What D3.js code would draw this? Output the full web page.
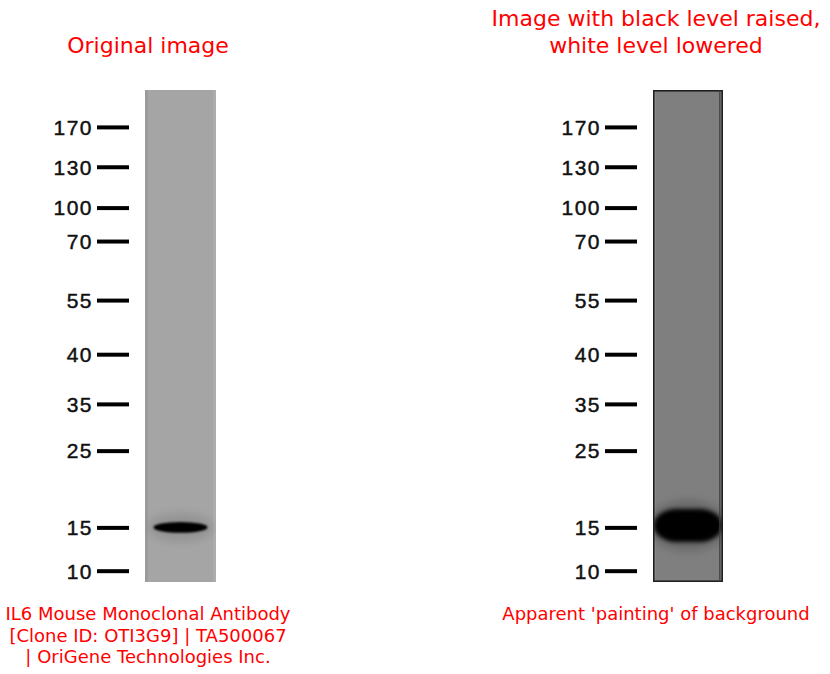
<!DOCTYPE html>
<html>
<head>
<meta charset="utf-8">
<script src="https://cdn.jsdelivr.net/npm/d3@7"></script>
<style>
  body { margin: 0; background: #fff; }
</style>
</head>
<body>
<script>
// Molecular weight ladder (kDa) and where each marker sits down the lane (relative mobility, 0 = top of lane)
const markerKDa = [170, 130, 100, 70, 55, 40, 35, 25, 15, 10];
const markerMobility = [0.075, 0.156, 0.239, 0.307, 0.427, 0.537, 0.638, 0.733, 0.889, 0.977];

// The one band seen in the lane, per panel
const bandMobility = [0.889, 0.885];
const bandSpread = [0.022, 0.067];      // band thickness, in mobility units
const bandFill = [0.76, 0.98];          // share of lane width covered by the band

const panelTitles = [
  ["Original image"],
  ["Image with black level raised,", "white level lowered"]
];
const panelCaptions = [
  ["IL6 Mouse Monoclonal Antibody", "[Clone ID: OTI3G9] | TA500067", "| OriGene Technologies Inc."],
  ["Apparent 'painting' of background"]
];

const W = 830, H = 674;
const laneTop = 90, laneBottom = 582;

// Panel look (the right one is the contrast-stretched copy)
const panels = [
  {dx: 0,   center: 148, lane: [145, 216], gray: "#a5a5a5", edgeL: "#9b9b9b", edgeR: "#adadad", border: false, halo: 0.10, bandBlur: 1.3},
  {dx: 508, center: 656, lane: [653, 723], gray: "#7f7f7f", edgeL: "#8a8a8a", edgeR: "#888888", border: true,  halo: 0.18, bandBlur: 2.2}
];

const svg = d3.select("body").append("svg")
  .attr("width", W)
  .attr("height", H)
  .style("font-family", "'DejaVu Sans', sans-serif");

const defs = svg.append("defs");

// Shared vertical scale: mobility -> pixel
const y = d3.scaleLinear().domain([0, 1]).range([laneTop, laneBottom]);

panels.forEach((p, i) => {
  const g = svg.append("g");

  // Lane horizontal scale: 0..1 across the lane
  const x = d3.scaleLinear().domain([0, 1]).range(p.lane);

  defs.append("clipPath").attr("id", `lane${i}`)
    .append("rect")
    .attr("x", x(0)).attr("y", y(0))
    .attr("width", x(1) - x(0)).attr("height", y(1) - y(0));

  defs.append("filter").attr("id", `blur${i}`)
    .attr("x", "-50%").attr("y", "-100%").attr("width", "200%").attr("height", "300%")
    .append("feGaussianBlur").attr("stdDeviation", p.bandBlur);
  defs.append("filter").attr("id", `halo${i}`)
    .attr("x", "-50%").attr("y", "-100%").attr("width", "200%").attr("height", "300%")
    .append("feGaussianBlur").attr("stdDeviation", 4);

  const lane = g.append("g").attr("clip-path", `url(#lane${i})`);

  lane.append("rect")
    .attr("x", x(0)).attr("y", y(0))
    .attr("width", x(1) - x(0)).attr("height", y(1) - y(0))
    .attr("fill", p.gray);

  // faint edge strips of the scanned lane
  lane.append("rect")
    .attr("x", x(0)).attr("y", y(0))
    .attr("width", x(0.04) - x(0)).attr("height", y(1) - y(0))
    .attr("fill", p.edgeL);
  lane.append("rect")
    .attr("x", x(0.96)).attr("y", y(0))
    .attr("width", x(1) - x(0.96)).attr("height", y(1) - y(0))
    .attr("fill", p.edgeR);

  // halo round the band
  lane.append("ellipse")
    .attr("cx", x(0.5))
    .attr("cy", y(bandMobility[i]))
    .attr("rx", (x(bandFill[i]) - x(0)) / 2 + 6)
    .attr("ry", (y(bandSpread[i]) - y(0)) / 2 + 9)
    .attr("fill", "#000")
    .attr("opacity", p.halo)
    .attr("filter", `url(#halo${i})`);

  // the band itself
  const bw = x(bandFill[i]) - x(0);
  const bh = y(bandSpread[i]) - y(0);
  lane.append("rect")
    .attr("x", x(0.5) - bw / 2)
    .attr("y", y(bandMobility[i]) - bh / 2)
    .attr("width", bw)
    .attr("height", bh)
    .attr("rx", i === 0 ? bw / 2 : bw / 3)
    .attr("ry", bh / 2)
    .attr("fill", "#050505")
    .attr("filter", `url(#blur${i})`);

  if (p.border) {
    g.append("rect")
      .attr("x", x(0) + 0.8).attr("y", y(0) + 0.8)
      .attr("width", x(1) - x(0) - 1.6).attr("height", y(1) - y(0) - 1.6)
      .attr("fill", "none")
      .attr("stroke", "#1a1a1a")
      .attr("stroke-width", 1.5);
    g.append("line")
      .attr("x1", x(0.955)).attr("x2", x(0.955))
      .attr("y1", y(0)).attr("y2", y(1))
      .attr("stroke", "#3a3a3a").attr("stroke-width", 1.2);
  }

  // marker ladder as an axis: bars of 32px ending 16px before the lane
  const axis = d3.axisLeft(y)
    .tickValues(markerMobility)
    .tickFormat((d, k) => markerKDa[k])
    .tickSize(32)
    .tickPadding(4);

  const ax = g.append("g")
    .attr("transform", `translate(${x(0) - 16},0)`)
    .call(axis);
  ax.select(".domain").remove();
  ax.selectAll(".tick line")
    .attr("stroke", "#000")
    .attr("stroke-width", 4);
  ax.selectAll(".tick text")
    .attr("fill", "#111")
    .attr("stroke", "#111")
    .attr("stroke-width", 0.45)
    .attr("dy", "0.35em")
    .style("font-family", "'Liberation Sans', Arial, sans-serif")
    .style("font-size", "21px")
    .style("letter-spacing", "1.5px");

  // title, bottom-aligned above the panel
  const tl = panelTitles[i];
  g.append("text")
    .attr("x", p.center)
    .attr("y", 53 - (tl.length - 1) * 27)
    .attr("text-anchor", "middle")
    .attr("fill", "red")
    .style("font-size", "22px")
    .selectAll("tspan")
    .data(tl)
    .join("tspan")
    .attr("x", p.center)
    .attr("dy", (d, k) => k === 0 ? 0 : 27)
    .text(d => d);

  // caption underneath
  g.append("text")
    .attr("x", p.center)
    .attr("y", 620)
    .attr("text-anchor", "middle")
    .attr("fill", "red")
    .style("font-size", "18px")
    .selectAll("tspan")
    .data(panelCaptions[i])
    .join("tspan")
    .attr("x", p.center)
    .attr("dy", (d, k) => k === 0 ? 0 : 21.5)
    .text(d => d);
});
</script>
</body>
</html>
